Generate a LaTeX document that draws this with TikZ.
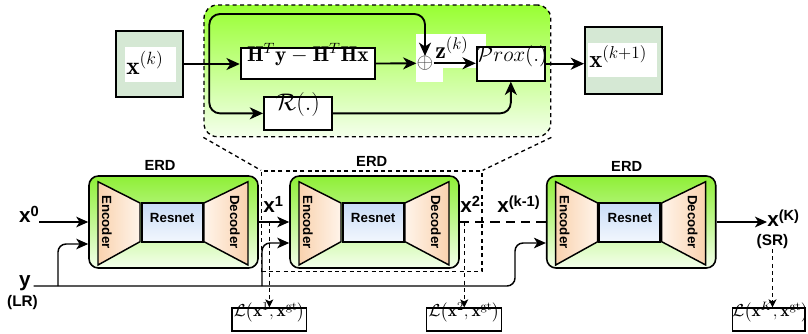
\RequirePackage{fix-cm}
\documentclass[tikz,border=0pt]{standalone}
\usepackage{amsmath}
\usepackage{fontspec}
\newfontfamily\hv{Liberation Sans}
\usetikzlibrary{arrows.meta,fit,calc}
\definecolor{gtop}{HTML}{99FF33}
\definecolor{gbot}{HTML}{F4FFEC}
\definecolor{etop}{HTML}{8EEF36}
\definecolor{ebot}{HTML}{F4FFEC}
\definecolor{boxg}{HTML}{D5E8D4}
\definecolor{peach}{HTML}{F9D2AE}
\definecolor{peachl}{HTML}{FFF4EA}
\definecolor{btop}{HTML}{C9DCF6}
\definecolor{bbot}{HTML}{F2F7FE}
\newcommand\bsx[1]{x\raisebox{4.5pt}{\fontsize{11}{11}\selectfont #1}}
\begin{document}
\begin{tikzpicture}[x=0.75pt,y=-0.75pt,
  tarr/.style={line width=1.4pt, -{Stealth[length=10pt,width=9pt,inset=3pt]}},
  barr/.style={line width=1.1pt, -{Stealth[length=9pt,width=8pt,inset=2.5pt]}},
  darr/.style={line width=0.9pt, dash pattern=on 3pt off 2.5pt, -{Stealth[length=6pt,width=6pt,inset=1.5pt]}},
  dsh/.style={line width=1pt, dash pattern=on 3pt off 2.5pt},
  mbox/.style={draw, line width=1.4pt, fill=white, inner sep=0pt},
  gbox/.style={draw, line width=1.4pt, fill=boxg, inner sep=0pt},
  wbg/.style={fill=white, inner sep=0pt},
  erdbox/.style={draw, line width=1.2pt, rounded corners=7pt, top color=etop, bottom color=ebot, inner sep=0pt},
  trap/.style={draw, line width=1.1pt},
  resbox/.style={draw, line width=1.6pt, top color=btop, bottom color=bbot, inner sep=0pt, font=\hv\bfseries\fontsize{10}{12}\selectfont},
  side/.style={font=\hv\bfseries\fontsize{10}{12}\selectfont, rotate=-90, inner sep=0pt},
  lab/.style={font=\hv\bfseries\fontsize{15.5}{18}\selectfont, inner sep=0pt},
  slab/.style={font=\hv\bfseries\fontsize{11.5}{13}\selectfont, inner sep=0pt},
  ttl/.style={font=\hv\bfseries\fontsize{11}{13}\selectfont, inner sep=0pt},
  loss/.style={draw, line width=0.9pt, inner sep=0pt, font=\fontsize{13}{15}\selectfont},
]
\useasboundingbox (0,0) rectangle (808,333);

% ---------- top block ----------
\node[draw, dsh, rounded corners=10pt, top color=gtop, bottom color=gbot, inner sep=0pt,
      fit={(204,5) (550.7,136.7)}] (blk) {};

\node[gbox, fit={(116,30.7) (183,97.3)}] (xk) {};
\node[wbg, fit={(125,46.7) (176,81.7)}] (xkbg) {};
\node[anchor=base west, inner sep=0pt, font=\fontsize{19}{21}\selectfont] (xkt) at (126,74) {$\mathbf{x}^{(k)}$};

\node[gbox, fit={(585,26.7) (661.7,94.3)}] (xk1) {};
\node[wbg, fit={(588,43) (656.7,76.7)}] (xk1bg) {};
\node[anchor=base west, inner sep=0pt, font=\fontsize{18.5}{21}\selectfont] (xk1t) at (589,67) {$\mathbf{x}^{(k+1)}$};

\node[wbg, fit={(416,34) (443,82)}] (opbg) {};
\node[wbg, fit={(435,34) (486,68)}] (zbg) {};

\node[mbox, fit={(240.7,48) (375,79)}, font=\fontsize{16}{18}\selectfont] (hbox)
  {$\mathbf{H}^T\mathbf{y}-\mathbf{H}^T\mathbf{H}\mathbf{x}$};
\node[mbox, fit={(264,96.7) (331.7,130)}, font=\fontsize{18}{20}\selectfont] (R) {$\mathcal{R}(.)$};
\node[mbox, fit={(476.7,46.7) (545,80.7)}, font=\fontsize{16}{18}\selectfont] (prox) {$\mathcal{P}rox(.)$};

\node[inner sep=0pt, font=\fontsize{16}{16}\selectfont, text=black!75] (op) at (425,63.3) {$\oplus$};
\node[anchor=base west, inner sep=0pt, font=\fontsize{18}{20}\selectfont] (zt) at (435,58.3) {$\mathbf{z}^{(k)}$};

\coordinate (br) at (209.3,64);
\coordinate (ty) at (300,14);
\draw[tarr] (xk.east) -- (xk.east -| hbox.west);
\draw[tarr, rounded corners=8pt] (br) |- (ty) -| (op.north);
\draw[tarr, rounded corners=8pt] (br) |- (R.west);
\draw[tarr, rounded corners=8pt] (R.east) -| (prox.south);
\draw[tarr] (hbox.east) -- (op.west);
\draw[tarr] (op.east) -- (op.east -| prox.west);
\draw[tarr] (prox.east) -- (prox.east -| xk1.west);

% ---------- ERD blocks ----------
\foreach \i/\xo in {1/89,2/290,3/546.7}{
  \node[erdbox, fit={(\xo,176) (\xo+169,268)}] (erd\i) {};
  \path[trap, left color=peach, right color=peachl]
    (\xo+9,181.7) -- (\xo+51,203) -- (\xo+51,241.7) -- (\xo+9,265) -- cycle;
  \path[trap, left color=peachl, right color=peach]
    (\xo+115,203) -- (\xo+159,181.7) -- (\xo+159,265) -- (\xo+115,241.7) -- cycle;
  \node[resbox, fit={(\xo+52.7,203) (\xo+113.7,241.7)}] (res\i) {Resnet};
  \node[side] (enc\i) at (\xo+18,222) {Encoder};
  \node[side] (dec\i) at (\xo+146,222) {Decoder};
}
\node[ttl] (erdt1) at (160,165.7) {ERD};
\node[ttl] (erdt2) at (371.7,161.3) {ERD};
\node[ttl] (erdt3) at (626.7,166) {ERD};

% group rectangle and zoom lines
\node[draw, dsh, inner sep=0pt, fit={(261.7,171) (482,271.7)}] (grp) {};
\draw[dsh] (blk.south west) -- (grp.north west);
\draw[dsh] (blk.south east) -- (grp.north east);

% labels
\node[lab, anchor=base east] (x0) at (39,222) {\bsx{0}};
\node[lab, anchor=base east] (ylab) at (31,286) {y};
\node[slab] (lr) at (22.5,303) {(LR)};
\node[lab, anchor=base west] (x1) at (263,212) {\bsx{1}};
\node[lab, anchor=base west] (x2) at (460,212) {\bsx{2}};
\node[lab, anchor=base west] (xkm) at (497,212) {\bsx{(k-1)}};
\node[lab, anchor=base west] (xK) at (767,226.5) {\bsx{(K)}};
\node[slab] (sr) at (772.5,241.7) {(SR)};

% loss boxes
\node[loss, fit={(232,308) (306.7,331)}] (loss1) {$\mathcal{L}\bigl(\mathbf{x}^{1},\mathbf{x}^{\mathrm{gt}}\bigr)$};
\node[loss, fit={(426.7,308) (501.7,331)}] (loss2) {$\mathcal{L}\bigl(\mathbf{x}^{2},\mathbf{x}^{\mathrm{gt}}\bigr)$};
\node[loss, fit={(732.3,308) (805,331)}] (loss3) {$\mathcal{L}\bigl(\mathbf{x}^{K},\mathbf{x}^{\mathrm{gt}}\bigr)$};

% connectors
\draw[barr] (x0.base east) -- (erd1.west);
\coordinate (yb1) at (58,286);
\coordinate (yb2) at (262,286);
\coordinate (yb3) at (515,286);
\draw[barr, rounded corners=6pt] ([xshift=2pt]ylab.base east) -- (yb3) |- ($(erd3.west)+(0,21)$);
\draw[barr, rounded corners=6pt] (yb1) |- ($(erd1.west)+(0,22)$);
\draw[barr, rounded corners=6pt] (yb2) |- ($(erd2.west)+(0,21)$);
\draw[barr] (erd1.east) -- (erd2.west);
\draw[line width=2.2pt, dash pattern=on 7pt off 4.5pt] (erd2.east) -- (erd3.west);
\draw[barr] (erd3.east) -- (erd3.east -| xK.west);
\coordinate (t1) at (loss1.north |- erd1.east);
\coordinate (t2) at (loss2.north |- erd2.east);
\draw[darr] (t1) -- (loss1.north);
\draw[darr] (t2) -- (loss2.north);
\draw[darr] (sr.south) -- (sr.south |- loss3.north);
\end{tikzpicture}
\end{document}
